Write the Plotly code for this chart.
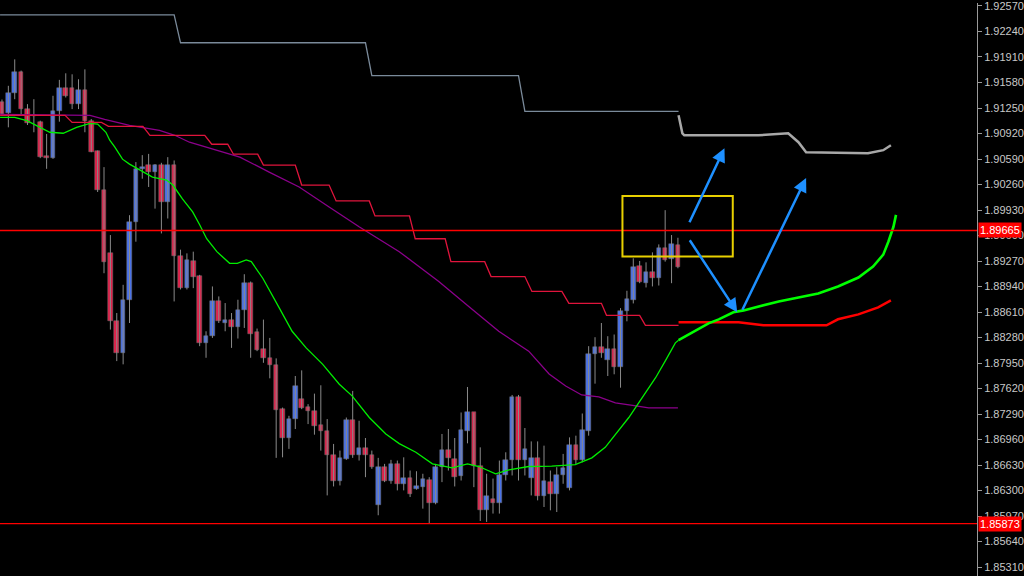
import plotly.graph_objects as go

# ---------------- candle data (bar index 0..106) ----------------
opens = [1.91331,1.91180,1.91442,1.91717,1.91236,1.91160,1.91064,1.90627,1.90601,1.91215,
         1.91515,1.91515,1.91300,1.91485,1.91086,1.90691,1.90185,1.89378,1.88499,1.88082,
         1.88769,1.89777,1.90459,1.90515,1.90421,1.90515,1.90035,1.90515,1.89340,1.88919,
         1.89271,1.89078,1.88211,1.88297,1.88756,1.88468,1.88503,1.88413,1.88641,1.88983,
         1.88352,1.88126,1.88010,1.87920,1.87353,1.86980,1.87225,1.87490,1.87383,1.87323,
         1.87142,1.87065,1.86765,1.86430,1.86710,1.87212,1.86756,1.86851,1.86765,1.86109,
         1.86602,1.86418,1.86645,1.86388,1.86465,1.86324,1.86344,1.86439,1.86138,1.86611,
         1.86826,1.86710,1.86482,1.87065,1.87310,1.86624,1.86053,1.86195,1.86138,1.86495,
         1.86697,1.87512,1.86697,1.86465,1.86723,1.86224,1.86409,1.86259,1.86495,1.86337,
         1.86894,1.86697,1.87074,1.88061,1.88155,1.87984,1.88126,1.87898,1.88628,1.88769,
         1.89211,1.88983,1.89125,1.89056,1.89434,1.89297,1.89477]
highs = [1.91360,1.91537,1.91879,1.91734,1.91300,1.91364,1.91086,1.90914,1.91408,1.91614,
         1.91699,1.91686,1.91622,1.91750,1.91107,1.90700,1.90485,1.89606,1.88597,1.88962,
         1.89863,1.90550,1.90640,1.90656,1.90524,1.90541,1.90614,1.90571,1.89417,1.89369,
         1.89391,1.89091,1.88361,1.88941,1.88812,1.88726,1.88597,1.88769,1.89099,1.89005,
         1.88396,1.88512,1.88275,1.88010,1.87374,1.87267,1.87782,1.87855,1.87418,1.87554,
         1.87662,1.87225,1.86903,1.86817,1.87245,1.87589,1.87203,1.86980,1.86817,1.86723,
         1.86645,1.86697,1.86688,1.86730,1.86559,1.86550,1.86517,1.86473,1.86645,1.87032,
         1.87096,1.86980,1.87310,1.87640,1.87310,1.86859,1.86517,1.86455,1.86688,1.86795,
         1.87537,1.87537,1.87109,1.86936,1.86936,1.86881,1.86559,1.86602,1.86774,1.86988,
         1.87010,1.87297,1.88168,1.88284,1.88468,1.88297,1.88319,1.88661,1.88885,1.89305,
         1.89271,1.89253,1.89382,1.89485,1.89928,1.89606,1.89571]
lows = [1.91155,1.91000,1.91364,1.91167,1.91030,1.90936,1.90601,1.90463,1.90592,1.91073,
        1.91386,1.91236,1.91236,1.90936,1.90678,1.90163,1.89112,1.88383,1.87975,1.87933,
        1.88468,1.89520,1.90335,1.90228,1.89948,1.89627,1.89820,1.88747,1.88902,1.88902,
        1.88919,1.88168,1.88018,1.88275,1.88468,1.88361,1.88146,1.88267,1.88404,1.88018,
        1.88104,1.87953,1.87752,1.86723,1.86730,1.86839,1.87096,1.87353,1.87160,1.87023,
        1.86817,1.86237,1.86353,1.86366,1.86697,1.86723,1.86688,1.86473,1.86581,1.85980,
        1.86409,1.86388,1.86302,1.86302,1.86216,1.86311,1.86066,1.85873,1.86122,1.86409,
        1.86559,1.86353,1.86430,1.86911,1.86344,1.85906,1.85894,1.86002,1.86002,1.86430,
        1.86495,1.86430,1.86495,1.86237,1.86173,1.86087,1.86044,1.86022,1.86388,1.86302,
        1.86645,1.86666,1.87010,1.87683,1.88018,1.87782,1.87804,1.87631,1.88490,1.88721,
        1.88983,1.88928,1.88941,1.88953,1.89262,1.88983,1.89176]
closes = [1.91171,1.91442,1.91717,1.91236,1.91055,1.91150,1.90614,1.90601,1.91215,1.91515,
          1.91408,1.91300,1.91485,1.91086,1.90687,1.90185,1.89253,1.88499,1.88082,1.88769,
          1.89777,1.90463,1.90485,1.90421,1.90515,1.90035,1.90515,1.89340,1.88919,1.89284,
          1.89069,1.88211,1.88306,1.88756,1.88490,1.88503,1.88413,1.88641,1.88983,1.88327,
          1.88121,1.88010,1.87920,1.87341,1.86980,1.87225,1.87653,1.87374,1.87323,1.87135,
          1.87065,1.86765,1.86430,1.86723,1.87212,1.86756,1.86851,1.86756,1.86611,1.86602,
          1.86418,1.86645,1.86388,1.86465,1.86259,1.86353,1.86452,1.86138,1.86611,1.86826,
          1.86718,1.86473,1.87083,1.87310,1.86624,1.86053,1.86224,1.86138,1.86495,1.86697,
          1.87512,1.86697,1.86839,1.86723,1.86224,1.86421,1.86259,1.86495,1.86594,1.86894,
          1.86697,1.87083,1.88069,1.88155,1.88082,1.88126,1.87898,1.88628,1.88782,1.89198,
          1.88996,1.89125,1.89056,1.89443,1.89284,1.89485,1.89198]

# ---------------- indicator lines (bar index, price) ----------------
gray_x = [-0.3, 27, 28, 57, 58, 81, 82, 106.1]
gray_y = [1.92455, 1.92455, 1.92094, 1.92094, 1.91669, 1.91669, 1.91206, 1.91206]
gray_fut_x = [106.1, 106.7, 107.0, 118.6, 123.3, 124.9, 126.1, 135.8, 138.2, 139.4]
gray_fut_y = [1.91155, 1.90923, 1.90897, 1.90897, 1.90923, 1.90807, 1.90678, 1.90665, 1.90704, 1.90768]

red_x = [-0.3, 9.9, 11.0, 15.6, 16.7, 22.1, 23.2, 31.8, 32.9, 35.4, 36.3, 40.1, 41.0, 46.0, 47.0,
         51.3, 52.4, 57.6, 58.5, 63.9, 64.8, 69.5, 70.4, 75.7, 76.7, 82.0, 83.1, 87.8, 88.9,
         94.0, 94.8, 100.0, 100.9, 106.1]
red_y = [1.91155, 1.91155, 1.91064, 1.91064, 1.91013, 1.91013, 1.90897, 1.90897, 1.90781, 1.90781,
         1.90652, 1.90652, 1.90511, 1.90511, 1.90253, 1.90253, 1.90047, 1.90047, 1.89854, 1.89854,
         1.89558, 1.89558, 1.89262, 1.89262, 1.89069, 1.89069, 1.88876, 1.88876, 1.88722, 1.88722,
         1.88567, 1.88567, 1.88438, 1.88438]
red_fut_x = [106.1, 115.5, 119.4, 129.3, 131.1, 134.3, 137.4, 139.4]
red_fut_y = [1.88477, 1.88477, 1.88438, 1.88438, 1.88516, 1.88580, 1.88670, 1.88760]

purple_x = [-0.3, 13.8, 16.1, 20.0, 24.7, 27.1, 29.4, 31.0, 37.3, 41.9, 46.6, 51.3, 56.0, 62.3,
            68.5, 73.2, 77.9, 82.6, 85.8, 88.4, 90.9, 93.6, 96.2, 99.4, 101.4, 106.0]
purple_y = [1.91167, 1.91155, 1.91103, 1.91026, 1.90961, 1.90897, 1.90807, 1.90768, 1.90614, 1.90421,
            1.90228, 1.89970, 1.89713, 1.89391, 1.89005, 1.88683, 1.88361, 1.88104, 1.87808, 1.87653,
            1.87537, 1.87512, 1.87435, 1.87396, 1.87370, 1.87370]

green_x = [-0.3, 2.0, 3.9, 4.9, 7.5, 9.6, 11.7, 13.8, 15.0, 16.3, 16.9, 17.7, 18.9, 20.0, 21.6,
           23.6, 25.8, 26.8, 28.3, 29.9, 31.0, 32.1, 33.7, 35.7, 36.9, 38.3, 39.1, 40.9, 43.5,
           45.5, 47.7, 50.3, 52.9, 54.9, 57.6, 60.2, 62.3, 64.9, 67.5, 70.6, 73.0, 74.8, 77.4,
           79.5, 82.6, 86.2, 89.9, 92.5, 94.6, 96.7, 98.3, 100.4, 102.5, 104.0, 105.6, 106.1]
green_y = [1.91129, 1.91129, 1.91086, 1.91042, 1.90936, 1.90923, 1.91000, 1.91051, 1.91042, 1.90936,
           1.90833, 1.90743, 1.90588, 1.90524, 1.90447, 1.90356, 1.90318, 1.90253, 1.90073, 1.89906,
           1.89739, 1.89558, 1.89391, 1.89240, 1.89240, 1.89284, 1.89262, 1.89047, 1.88661, 1.88361,
           1.88146, 1.87933, 1.87675, 1.87525, 1.87245, 1.87032, 1.86907, 1.86795, 1.86645, 1.86594,
           1.86645, 1.86611, 1.86517, 1.86568, 1.86611, 1.86615, 1.86636, 1.86723, 1.86859, 1.87074,
           1.87245, 1.87503, 1.87760, 1.87975, 1.88211, 1.88245]
green_fut_x = [106.1, 107.7, 109.2, 110.8, 112.4, 114.7, 116.3, 118.6, 121.8, 124.9, 128.0, 131.1,
               134.3, 136.6, 138.2, 139.0, 139.8, 140.2]
green_fut_y = [1.88245, 1.88323, 1.88387, 1.88464, 1.88515, 1.88606, 1.88631, 1.88683, 1.88747, 1.88799,
               1.88850, 1.88941, 1.89056, 1.89198, 1.89352, 1.89520, 1.89713, 1.89867]

hlines = [1.89665, 1.85873]
hline_labels = ["1.89665", "1.85873"]

tick_vals = [1.85310, 1.85640, 1.85970, 1.86300, 1.86630, 1.86960, 1.87290, 1.87620, 1.87950,
             1.88280, 1.88610, 1.88940, 1.89270, 1.89600, 1.89930, 1.90260, 1.90590, 1.90920,
             1.91250, 1.91580, 1.91910, 1.92240, 1.92570]
tick_text = ["%.5f" % v for v in tick_vals]

# yellow box (bar index / price)
box_x = [97.3, 114.6]
box_y = [1.89327, 1.90112]

# arrows: (tail_x, tail_y, head_x, head_y)
arrows = [(107.7, 1.89751, 113.3, 1.90730),
          (107.7, 1.89558, 115.3, 1.88606),
          (116.0, 1.88619, 126.1, 1.90344)]

# ---------------- build figure ----------------
n = len(opens)
idx = list(range(n))

BULL = "#4a72e8"
BEAR = "#e0204a"
WICK = "#8a8a8a"

fig = go.Figure()

# wicks
wx, wy = [], []
for i in idx:
    wx += [i, i, None]
    wy += [lows[i], highs[i], None]
fig.add_trace(go.Scatter(x=wx, y=wy, mode="lines", line=dict(color=WICK, width=1),
                         hoverinfo="skip", showlegend=False))

# bodies
base = [min(o, c) for o, c in zip(opens, closes)]
height = [max(abs(c - o), 0.00006) for o, c in zip(opens, closes)]
colors = [BULL if c > o else BEAR for o, c in zip(opens, closes)]
fig.add_trace(go.Bar(x=idx, y=height, base=base, width=0.72,
                     marker=dict(color=colors, line=dict(color="#707070", width=0.5)),
                     showlegend=False, hoverinfo="skip"))

# indicator lines
fig.add_trace(go.Scatter(x=purple_x, y=purple_y, mode="lines",
                         line=dict(color="#8B008B", width=1.3), showlegend=False))
fig.add_trace(go.Scatter(x=gray_x, y=gray_y, mode="lines",
                         line=dict(color="#7a8a9a", width=1.3), showlegend=False))
fig.add_trace(go.Scatter(x=gray_fut_x, y=gray_fut_y, mode="lines",
                         line=dict(color="#a8a8a8", width=2.5), showlegend=False))
fig.add_trace(go.Scatter(x=red_x, y=red_y, mode="lines",
                         line=dict(color="#E0143C", width=1.3), showlegend=False))
fig.add_trace(go.Scatter(x=red_fut_x, y=red_fut_y, mode="lines",
                         line=dict(color="#FF0000", width=2.5), showlegend=False))
fig.add_trace(go.Scatter(x=green_x, y=green_y, mode="lines",
                         line=dict(color="#00EE00", width=1.3), showlegend=False))
fig.add_trace(go.Scatter(x=green_fut_x, y=green_fut_y, mode="lines",
                         line=dict(color="#00FF00", width=2.6), showlegend=False))

# horizontal price lines
for v in hlines:
    fig.add_hline(y=v, line=dict(color="#FF0000", width=1.3))

# yellow rectangle
fig.add_shape(type="rect", x0=box_x[0], x1=box_x[1], y0=box_y[0], y1=box_y[1],
              line=dict(color="#E8D000", width=2), fillcolor="rgba(0,0,0,0)")

# arrows
for tx, ty, hx, hy in arrows:
    fig.add_annotation(x=hx, y=hy, ax=tx, ay=ty, xref="x", yref="y", axref="x", ayref="y",
                       showarrow=True, arrowhead=2, arrowsize=1.1, arrowwidth=2.5,
                       arrowcolor="#1E90FF", text="")

# price labels on the axis
for v, t in zip(hlines, hline_labels):
    fig.add_annotation(x=1.0, xref="paper", y=v, yref="y", text=t, showarrow=False,
                       xanchor="left", yanchor="middle", xshift=1,
                       bgcolor="#FF0000", borderpad=1,
                       font=dict(family="Liberation Sans", size=11, color="#ffffff"))

fig.update_layout(
    width=1024, height=576,
    margin=dict(l=0, r=45, t=0, b=0),
    paper_bgcolor="#000000", plot_bgcolor="#000000",
    bargap=0, showlegend=False,
    xaxis=dict(range=[-0.31, 152.9], visible=False, showgrid=False, zeroline=False),
    yaxis=dict(range=[1.851943, 1.926086], side="right", showgrid=False, zeroline=False,
               showline=True, linecolor="#9a9a9a", linewidth=1,
               ticks="outside", ticklen=4, tickcolor="#9a9a9a",
               tickvals=tick_vals, ticktext=tick_text, ticklabeloverflow="allow",
               tickfont=dict(family="Liberation Sans", size=11, color="#c8c8c8")),
)

fig.write_html("out.html", config={"displayModeBar": False},
               post_script="document.body.style.margin='0';document.body.style.background='#000';")
